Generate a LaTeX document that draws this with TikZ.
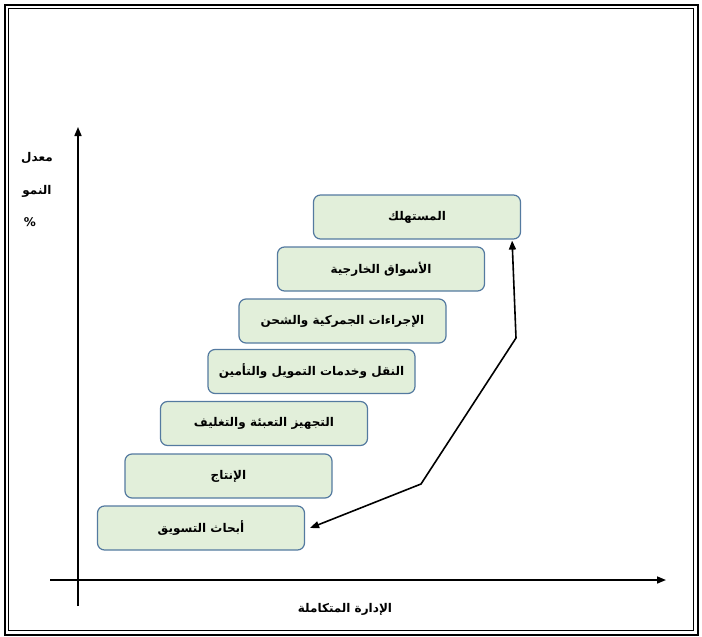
\documentclass[tikz,border=0pt]{standalone}
\usepackage{fontspec}
\newfontfamily\arabicfont[Script=Arabic]{DejaVu Sans}
\TeXXeTstate=1
\usetikzlibrary{arrows.meta}
\definecolor{stepfill}{RGB}{226,239,218}
\definecolor{stepline}{RGB}{84,122,160}

\begin{document}
\begin{tikzpicture}[x=1pt,y=-1pt,>={Triangle[length=9pt,width=7pt]},
  stepbox/.style={draw=stepline,fill=stepfill,line width=1.2pt,rounded corners=7pt,
    minimum width=207pt,minimum height=44pt,font=\arabicfont\bfseries\fontsize{12}{14}\selectfont},
  lbl/.style={font=\arabicfont\bfseries\fontsize{12}{14}\selectfont}]

\useasboundingbox (0,0) rectangle (702,637);

% Page frame
\draw[line width=2pt] (4.5,4.5) rectangle (697.5,634.5);
\draw[line width=0.9pt] (8.5,8.5) rectangle (693.5,630.5);

% Axes
\draw[line width=1.6pt,->] (78,606) -- (78,127);
\draw[line width=1.6pt,->] (50,580) -- (666,580);

\node[lbl] (rate) at (37,158) {\beginR معدل\endR};
\node[lbl] (growth) at (37,191) {\beginR النمو\endR};
\node[lbl] (pct) at (30,222) {\%};
\node[lbl] (mgmt) at (345,609) {\beginR الإدارة المتكاملة\endR};

% Steps
\node[stepbox] (cons) at (417,217) {\beginR المستهلك\endR};
\node[stepbox] (frgn) at (381,269) {\beginR الأسواق الخارجية\endR};
\node[stepbox] (cust) at (342.5,321) {\beginR الإجراءات الجمركية والشحن\endR};
\node[stepbox] (trans) at (311.5,371.5) {\beginR النقل وخدمات التمويل والتأمين\endR};
\node[stepbox] (pack) at (264,423.5) {\beginR التجهيز التعبئة والتغليف\endR};
\node[stepbox] (prod) at (228.5,476) {\beginR الإنتاج\endR};
\node[stepbox] (mkt) at (201,528) {\beginR أبحاث التسويق\endR};

% Return arrow
\draw[line width=1.6pt,<->] ([xshift=5pt]mkt.east) -- (421,484) -- (516,338)
  -- ([xshift=-9pt,yshift=-1pt]cons.south east);

\end{tikzpicture}
\end{document}
